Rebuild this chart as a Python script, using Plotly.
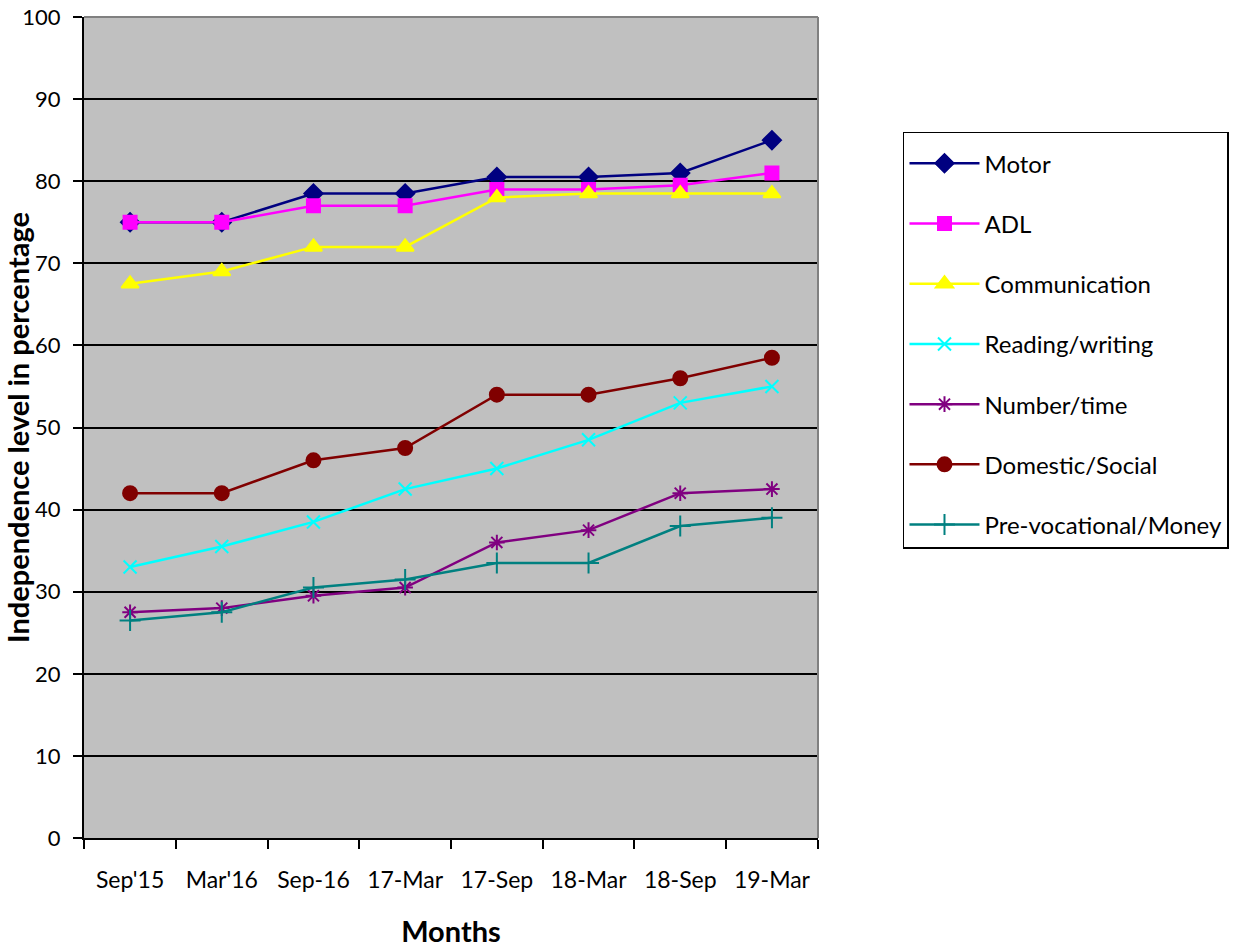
import plotly.graph_objects as go

months = ["Sep'15", "Mar'16", "Sep-16", "17-Mar", "17-Sep", "18-Mar", "18-Sep", "19-Mar"]

motor = [75, 75, 78.5, 78.5, 80.5, 80.5, 81, 85]
adl = [75, 75, 77, 77, 79, 79, 79.5, 81]
communication = [67.5, 69, 72, 72, 78, 78.5, 78.5, 78.5]
reading_writing = [33, 35.5, 38.5, 42.5, 45, 48.5, 53, 55]
number_time = [27.5, 28, 29.5, 30.5, 36, 37.5, 42, 42.5]
domestic_social = [42, 42, 46, 47.5, 54, 54, 56, 58.5]
prevocational_money = [26.5, 27.5, 30.5, 31.5, 33.5, 33.5, 38, 39]

series = [
    ("Motor", motor, "#000080", "diamond", 14),
    ("ADL", adl, "#FF00FF", "square", 13),
    ("Communication", communication, "#FFFF00", "triangle-up", 15),
    ("Reading/writing", reading_writing, "#00FFFF", "x-thin-open", 13),
    ("Number/time", number_time, "#800080", "asterisk-open", 13),
    ("Domestic/Social", domestic_social, "#800000", "circle", 14),
    ("Pre-vocational/Money", prevocational_money, "#008080", "cross-thin-open", 15),
]

FONT = "Lato"

fig = go.Figure()
for i, (name, vals, color, sym, sz) in enumerate(series):
    fig.add_trace(go.Scatter(
        x=months, y=vals, name=name, mode="lines+markers",
        legendgroup=f"g{i}",
        line=dict(color=color, width=2.5),
        marker=dict(symbol=sym, size=sz, color=color,
                    line=dict(color=color, width=2)),
    ))

fig.update_layout(
    width=1244, height=948,
    margin=dict(l=84, r=426, t=17, b=110, autoexpand=False),
    paper_bgcolor="white",
    plot_bgcolor="#C0C0C0",
    font=dict(family=FONT, size=24, color="black"),
    showlegend=True,
    legend=dict(
        x=1.1158, y=0.86, xanchor="left", yanchor="top",
        bordercolor="black", borderwidth=1.5,
        bgcolor="white",
        font=dict(family=FONT, size=24, color="black"),
        title=dict(text=" ", font=dict(size=6)),
        traceorder="grouped", tracegroupgap=26,
        itemwidth=70,
    ),
    xaxis=dict(
        type="category",
        tickson="boundaries",
        automargin=False,
        ticks="outside", ticklen=9, tickwidth=2, tickcolor="black",
        ticklabelstandoff=20,
        showline=True, linecolor="black", linewidth=2,
        showgrid=False, zeroline=False,
        tickfont=dict(family=FONT, size=23),
        title=dict(text="<b>Months</b>", font=dict(family=FONT, size=29), standoff=30),
    ),
    yaxis=dict(
        range=[0, 100], dtick=10,
        automargin=False,
        ticks="outside", ticklen=9, tickwidth=2, tickcolor="black",
        ticklabelstandoff=8,
        showline=True, linecolor="black", linewidth=2,
        showgrid=True, gridcolor="black", gridwidth=2,
        zeroline=False,
        tickfont=dict(family=FONT, size=22),
        title=dict(text="<b>Independence level in percentage</b>",
                   font=dict(family=FONT, size=29), standoff=0),
    ),
)

# gray border on top/right of plot area (like the reference)
fig.add_shape(type="line", xref="paper", yref="paper", x0=0, x1=1, y0=1, y1=1,
              line=dict(color="#808080", width=2))
fig.add_shape(type="line", xref="paper", yref="paper", x0=1, x1=1, y0=0, y1=1,
              line=dict(color="#808080", width=2))

fig.write_html("out.html", config={"displayModeBar": False},
               post_script="document.body.style.margin='0';window.dispatchEvent(new Event('resize'));")
